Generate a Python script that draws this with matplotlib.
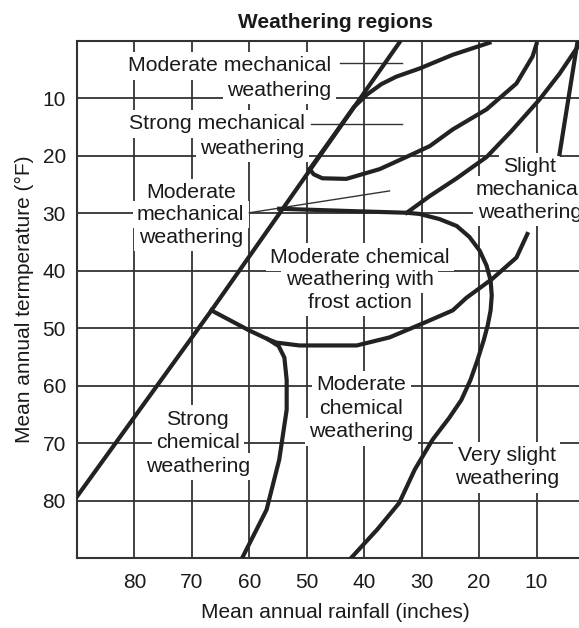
import matplotlib.pyplot as plt

plt.rcParams['font.family'] = ['Liberation Sans', 'DejaVu Sans']

# boundaries: rainfall (inches), temperature (°F)
diag_rain = [90.0, 66.6, 33.9]
diag_temp = [79.3, 46.9, 0.3]

upper_rain = [49.5, 45.0, 41.8, 39.5, 37.0, 34.4, 30.4, 24.6, 18.2]
upper_temp = [22.3, 16.0, 11.5, 9.3, 7.5, 6.2, 4.8, 2.4, 0.3]

hook_rain = [49.5, 48.8, 47.3, 43.1, 37.3, 31.6, 28.6, 24.6, 18.7, 13.5, 10.7, 10.0]
hook_temp = [22.3, 23.2, 23.9, 24.0, 22.3, 19.7, 18.3, 15.4, 11.9, 7.4, 2.7, 0.5]

frost_top_rain = [54.8, 42.6, 32.6, 30.4, 26.9, 23.9, 21.7, 19.9, 18.7, 18.0, 17.8, 18.0,
                  18.5, 19.2, 20.3, 21.5, 23.1, 25.2, 28.1, 31.2, 33.9, 37.7, 42.2]
frost_top_temp = [29.2, 29.6, 29.9, 30.1, 31.0, 32.2, 34.1, 36.5, 39.1, 41.7, 44.3, 46.9,
                  49.5, 52.1, 55.6, 59.0, 62.5, 65.6, 69.4, 74.6, 80.4, 85.0, 89.9]

frost_low_rain = [66.6, 60.0, 56.8, 55.3, 51.3, 46.0, 41.3, 35.6, 29.9, 24.6, 22.2, 17.7, 13.5, 11.6]
frost_low_temp = [46.9, 50.4, 51.9, 52.5, 53.0, 53.0, 53.0, 51.6, 49.2, 46.9, 44.7, 41.4, 37.7, 33.6]

chem_rain = [56.8, 54.9, 53.9, 53.5, 53.5, 54.8, 57.0, 61.2]
chem_temp = [51.9, 53.1, 55.1, 59.0, 64.2, 72.9, 81.6, 89.9]

slight_rain = [32.6, 28.6, 23.9, 18.7, 14.4, 9.5, 6.0, 2.5]
slight_temp = [29.9, 27.0, 23.9, 20.2, 15.7, 10.2, 5.7, 0.5]

edge_rain = [6.0, 2.9]
edge_temp = [19.7, 0.3]

curves = [(diag_rain, diag_temp), (upper_rain, upper_temp), (hook_rain, hook_temp),
          (frost_top_rain, frost_top_temp), (frost_low_rain, frost_low_temp),
          (chem_rain, chem_temp), (slight_rain, slight_temp), (edge_rain, edge_temp)]

# thin pointer lines from the labels
leaders = [([44.3, 33.5], [3.9, 3.9]),
           ([49.2, 33.5], [14.5, 14.5]),
           ([60.0, 35.6], [29.9, 26.1])]

labels = [["Moderate mechanical", "weathering"],
          ["Strong mechanical", "weathering"],
          ["Moderate", "mechanical", "weathering"],
          ["Moderate chemical", "weathering with", "frost action"],
          ["Slight", "mechanical", "weathering"],
          ["Strong", "chemical", "weathering"],
          ["Moderate", "chemical", "weathering"],
          ["Very slight", "weathering"]]

xticks = [80, 70, 60, 50, 40, 30, 20, 10]
yticks = [10, 20, 30, 40, 50, 60, 70, 80]

fig = plt.figure(figsize=(5.79, 6.28), dpi=100)
ax = fig.add_axes([77 / 579, 70 / 628, 517 / 579, 517 / 628])
ax.set_xlim(90, 0)
ax.set_ylim(90, 0)
ax.set_xticks(xticks)
ax.set_yticks(yticks)
ax.tick_params(length=0, labelsize=15, colors='#1a1a1a')
ax.tick_params(axis='x', pad=11)
ax.tick_params(axis='y', pad=8)
ax.grid(True, color='#333333', lw=1.3)
ax.set_axisbelow(True)
for sp in ax.spines.values():
    sp.set_color('#333333')
    sp.set_linewidth(1.5)

for r, t in curves:
    ax.plot(r, t, color='#222222', lw=3, solid_joinstyle='round', zorder=4)
for r, t in leaders:
    ax.plot(r, t, color='#333333', lw=1.0, zorder=3)

# label anchor (rain, temp of first baseline), alignment, line step
where = [(45.7, 5.3, 'right', 4.2),
         (50.4, 15.4, 'right', 4.3),
         (70.2, 27.3, 'center', 3.9),
         (40.8, 38.6, 'center', 3.9),
         (11.2, 22.8, 'center', 4.0),
         (69.0, 66.8, 'center', 4.1),
         (40.5, 60.8, 'center', 4.1),
         (15.2, 73.2, 'center', 4.0)]
for lines, (x, y, ha, step) in zip(labels, where):
    for i, s in enumerate(lines):
        ax.text(x, y + i * step, s, ha=ha, va='baseline', fontsize=15.3, color='#1a1a1a',
                zorder=2, bbox=dict(boxstyle='square,pad=0.2', fc='white', ec='none'))

ax.set_title('Weathering regions', fontsize=15, fontweight='bold', pad=9, color='#1a1a1a')
ax.set_xlabel('Mean annual rainfall (inches)', fontsize=15, labelpad=8, color='#1a1a1a')
ax.set_ylabel('Mean annual termperature (°F)', fontsize=15, labelpad=6, color='#1a1a1a')

fig.savefig('out.png', dpi=100)
